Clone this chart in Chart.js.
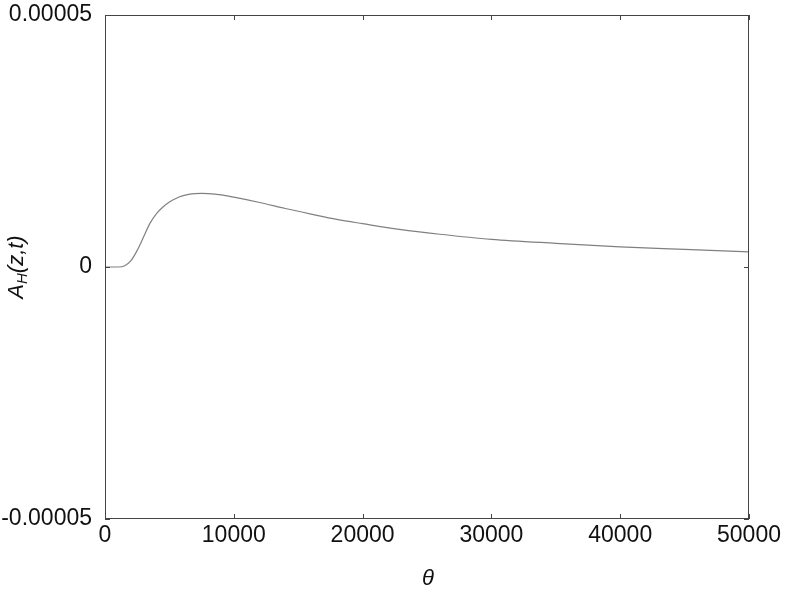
<!DOCTYPE html>
<html lang="en">
<head>
    <meta charset="UTF-8">
    <title>A_H(z,t) vs theta</title>
    <script src="https://cdn.jsdelivr.net/npm/chart.js"></script>
    <style>
        body {
            margin: 0;
            background: #fff;
        }
        .chart-container {
            width: 785px;
            height: 592px;
        }
    </style>
</head>
<body>
    <div class="chart-container">
        <canvas id="lineChart"></canvas>
    </div>

    <script>
        // theta values and A_H(z,t)
        const thetaValues = [0, 500, 1000, 1500, 2000, 2500, 3000, 3500, 4000, 4500, 5000, 5500, 6000, 6500, 7000, 7500,
            8000, 9000, 10000, 12000, 14000, 16000, 18000, 20000, 23000, 26000, 30000, 35000, 40000, 45000, 50000];
        const ahValues = [0, 0, 0, 0.02e-5, 0.12e-5, 0.33e-5, 0.6e-5, 0.87e-5, 1.06e-5, 1.19e-5, 1.29e-5, 1.36e-5,
            1.41e-5, 1.44e-5, 1.455e-5, 1.46e-5, 1.455e-5, 1.43e-5, 1.385e-5, 1.28e-5, 1.16e-5, 1.05e-5, 0.945e-5,
            0.86e-5, 0.74e-5, 0.65e-5, 0.55e-5, 0.47e-5, 0.40e-5, 0.35e-5, 0.30e-5];
        const xTicks = [0, 10000, 20000, 30000, 40000, 50000];
        const yTicks = [-0.00005, 0, 0.00005];

        const points = thetaValues.map((t, i) => ({ x: t, y: ahValues[i] }));
        const fontFamily = '"Liberation Sans", Arial, sans-serif';

        // frame box with inward tick marks on all four sides, plus axis titles
        const framePlugin = {
            id: 'frame',
            afterDraw(chart) {
                const ctx = chart.ctx;
                const { left, right, top, bottom } = chart.chartArea;
                const xs = chart.scales.x, ys = chart.scales.y;
                const len = 5;
                ctx.save();
                ctx.strokeStyle = '#444';
                ctx.lineWidth = 1;
                ctx.strokeRect(left + 0.5, top + 0.5, right - left - 1, bottom - top - 1);
                ctx.beginPath();
                xs.ticks.forEach(t => {
                    const px = Math.round(xs.getPixelForValue(t.value)) + 0.5;
                    ctx.moveTo(px, bottom); ctx.lineTo(px, bottom - len);
                    ctx.moveTo(px, top); ctx.lineTo(px, top + len);
                });
                ys.ticks.forEach(t => {
                    const py = Math.round(ys.getPixelForValue(t.value)) + 0.5;
                    ctx.moveTo(left, py); ctx.lineTo(left + len, py);
                    ctx.moveTo(right, py); ctx.lineTo(right - len, py);
                });
                ctx.stroke();

                // axis titles
                ctx.fillStyle = '#111';
                ctx.font = 'italic 22px ' + fontFamily;
                ctx.textAlign = 'center';
                ctx.textBaseline = 'alphabetic';
                ctx.fillText('\u03b8', 428, 585);

                ctx.translate(23, 267);
                ctx.rotate(-Math.PI / 2);
                ctx.textAlign = 'left';
                const partA = 'A', partH = 'H', partRest = '(z,t)';
                ctx.font = 'italic 22px ' + fontFamily;
                const wA = ctx.measureText(partA).width;
                const wRest = ctx.measureText(partRest).width;
                ctx.font = 'italic 15px ' + fontFamily;
                const wH = ctx.measureText(partH).width;
                const x0 = -(wA + wH + wRest) / 2;
                ctx.font = 'italic 22px ' + fontFamily;
                ctx.fillText(partA, x0, 0);
                ctx.font = 'italic 15px ' + fontFamily;
                ctx.fillText(partH, x0 + wA, 4);
                ctx.font = 'italic 22px ' + fontFamily;
                ctx.fillText(partRest, x0 + wA + wH, 0);
                ctx.restore();
            }
        };

        const ctx = document.getElementById('lineChart').getContext('2d');
        new Chart(ctx, {
            type: 'line',
            data: {
                datasets: [{
                    data: points,
                    borderColor: '#808080',
                    borderWidth: 1.2,
                    pointRadius: 0,
                    fill: false,
                    cubicInterpolationMode: 'monotone'
                }]
            },
            options: {
                responsive: true,
                maintainAspectRatio: false,
                animation: false,
                layout: {
                    padding: { left: 0, right: 36, top: 15, bottom: 0 }
                },
                plugins: {
                    legend: { display: false },
                    tooltip: { enabled: false }
                },
                scales: {
                    x: {
                        type: 'linear',
                        min: 0,
                        max: 50000,
                        afterBuildTicks: scale => { scale.ticks = xTicks.map(v => ({ value: v })); },
                        afterFit: scale => { scale.height = 73; scale.paddingLeft = 0; scale.paddingRight = 0; },
                        grid: { display: false },
                        border: { display: false },
                        ticks: {
                            color: '#111',
                            padding: -5,
                            maxRotation: 0,
                            font: { family: fontFamily, size: 23 },
                            callback: v => String(v)
                        }
                    },
                    y: {
                        min: -0.00005,
                        max: 0.00005,
                        afterBuildTicks: scale => { scale.ticks = yTicks.map(v => ({ value: v })); },
                        afterFit: scale => { scale.width = 105; scale.paddingTop = 0; scale.paddingBottom = 0; },
                        grid: { display: false },
                        border: { display: false },
                        ticks: {
                            color: '#111',
                            padding: 5,
                            font: { family: fontFamily, size: 23 },
                            callback: v => v === 0 ? '0' : v.toFixed(5)
                        }
                    }
                }
            },
            plugins: [framePlugin]
        });
    </script>
</body>
</html>
